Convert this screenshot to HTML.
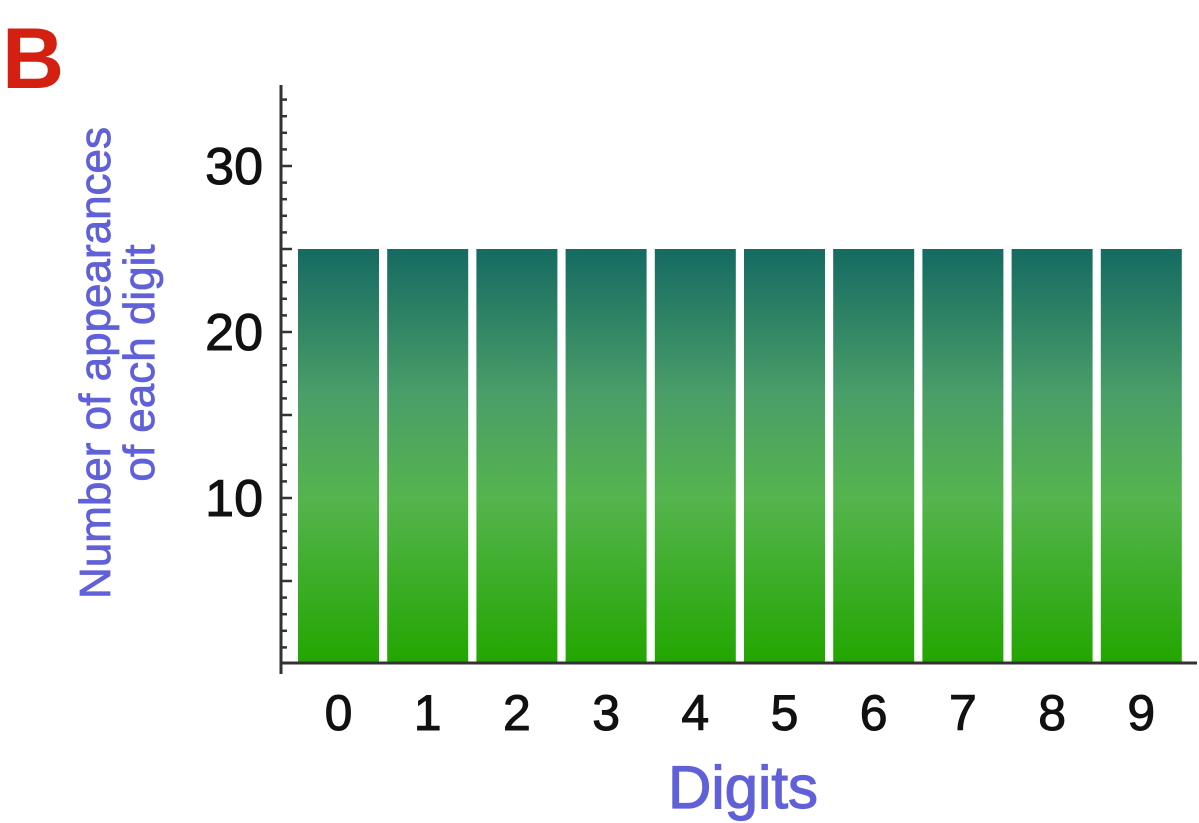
<!DOCTYPE html>
<html><head><meta charset="utf-8"><style>
body{margin:0;background:#fff;}
svg{display:block;font-family:"Liberation Sans",sans-serif;}
</style></head><body>
<svg width="1199" height="823">
<defs><linearGradient id="g" x1="0" y1="0" x2="0" y2="1">
<stop offset="0" stop-color="#156a62"/><stop offset="0.35" stop-color="#4a9e68"/><stop offset="0.6" stop-color="#55b44e"/><stop offset="1" stop-color="#22a600"/></linearGradient></defs>
<text x="2" y="88" font-size="86" font-weight="bold" fill="#d42010">B</text>
<g id="bars"></g>
<g id="axes"></g>
<text x="743" y="808" font-size="60" fill="#6060d8" stroke="#6060d8" stroke-width="1.2" text-anchor="middle">Digits</text>
<g transform="translate(116,363) rotate(-90)">
<text x="0" y="-6" font-size="44" fill="#6060d8" stroke="#6060d8" stroke-width="0.8" text-anchor="middle">Number of appearances</text>
<text x="0" y="38" font-size="44" fill="#6060d8" stroke="#6060d8" stroke-width="0.8" text-anchor="middle">of each digit</text>
</g>
</svg>
<script>
const categories=["0","1","2","3","4","5","6","7","8","9"];
const counts=[25,25,25,25,25,25,25,25,25,25];
const yTicks=[10,20,30];
const ns="http://www.w3.org/2000/svg";
const x0=338.5,step=89.2,bw=81;
function xs(i){return x0+i*step;}
function ys(v){return 664-v*16.6;}
function mk(t,a,p){const e=document.createElementNS(ns,t);for(const k in a)e.setAttribute(k,a[k]);p.appendChild(e);return e;}
const bars=document.getElementById('bars'),axes=document.getElementById('axes');
counts.forEach((v,i)=>{
 const r=mk('rect',{x:xs(i)-bw/2,y:ys(v),width:bw,height:ys(0)-ys(v),fill:'url(#g)'},bars);
 
 
 const t=mk('text',{x:xs(i),y:730,'font-size':50,'text-anchor':'middle',fill:'#111',stroke:'#111','stroke-width':1},axes);
 t.textContent=categories[i];
 
 
});
const ya=mk('line',{x1:281,y1:85,x2:281,y2:674,stroke:'#333','stroke-width':3},axes);


const xa=mk('line',{x1:280,y1:663,x2:1197,y2:663,stroke:'#333','stroke-width':3},axes);


for(let v=1;v<=34;v++){
 const l=mk('line',{x1:281,y1:ys(v),x2:281+(v%5===0?11:6),y2:ys(v),stroke:'#333','stroke-width':2.5},axes);
 
 
}
yTicks.forEach(v=>{
 const t=mk('text',{x:263,y:ys(v)+18,'font-size':52,'text-anchor':'end',fill:'#111',stroke:'#111','stroke-width':1},axes);
 t.textContent=v;
 
 
});
</script>
</body></html>
